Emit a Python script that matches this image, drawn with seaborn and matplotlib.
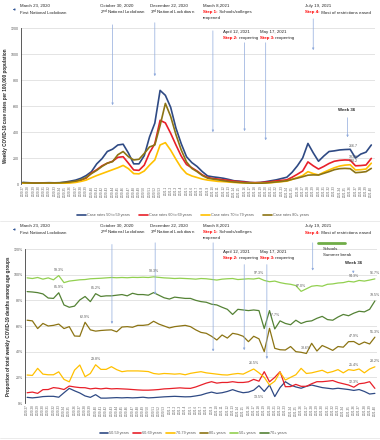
import matplotlib
matplotlib.use("Agg")
import matplotlib.pyplot as plt
from matplotlib.lines import Line2D
import seaborn as sns
import pandas as pd

# ---------------- data ----------------
weeks = [f"2020-{w}" for w in range(27, 54)] + [f"2021-{w}" for w in range(1, 41)]

case_50_59 = [12, 10, 8, 8, 9, 10, 9, 10, 15, 22,
              30, 44, 65, 95, 155, 195, 250, 268, 300, 306,
              238, 155, 155, 218, 362, 468, 720, 682, 590, 430,
              310, 210, 165, 135, 95, 62, 55, 50, 44, 35,
              25, 22, 18, 12, 10, 12, 18, 25, 32, 42,
              52, 90, 140, 200, 312, 240, 175, 215, 250, 255,
              262, 265, 266.7, 200, 230, 245, 300]
case_60_69 = [6, 5, 5, 5, 6, 6, 5, 6, 9, 13,
              18, 28, 45, 85, 110, 140, 160, 175, 205, 210,
              160, 108, 105, 145, 240, 310, 490, 470, 390, 300,
              215, 150, 125, 100, 70, 50, 42, 38, 32, 28,
              22, 18, 14, 11, 10, 11, 14, 18, 24, 28,
              32, 52, 75, 100, 170, 140, 115, 135, 158, 175,
              182, 185, 183.6, 140, 142, 146, 197]
case_70_79 = [5, 4, 4, 4, 4, 5, 4, 5, 6, 8,
              12, 20, 30, 48, 65, 80, 95, 110, 125, 143,
              118, 80, 78, 100, 145, 185, 300, 318, 260, 190,
              125, 80, 62, 50, 38, 30, 25, 20, 18, 15,
              12, 10, 8, 6, 5, 6, 8, 10, 14, 18,
              22, 35, 50, 65, 95, 80, 70, 90, 108, 125,
              138, 145, 148.2, 108, 110, 115, 160]
case_80p = [10, 8, 7, 7, 8, 8, 8, 9, 12, 16,
            22, 32, 50, 80, 105, 135, 160, 172, 225, 250,
            210, 185, 190, 235, 285, 300, 450, 620, 520, 380,
            262, 170, 120, 95, 65, 45, 38, 32, 25, 20,
            15, 12, 9, 7, 5, 6, 8, 12, 16, 20,
            25, 36, 45, 56, 68, 70, 69, 82, 95, 110,
            118, 120, 118, 87, 90, 95, 120]

d_50_59 = [4.4, 4.0, 4.4, 5.0, 5.2, 5.2, 4.5, 8.0, 11.4, 9.5,
           7.8, 5.5, 4.4, 6.5, 3.8, 3.8, 4.0, 4.2, 4.0, 4.2,
           4.0, 4.2, 4.5, 4.0, 4.2, 4.5, 4.8, 5.0, 5.2, 5.0,
           4.8, 4.9, 5.5, 6.2, 7.5, 8.5, 7.5, 8.0, 9.0, 10.4,
           9.0, 8.0, 8.5, 10.0, 13.5, 9.0, 14.0, 5.0, 12.0, 16.6,
           14.0, 12.5, 11.5, 13.0, 14.0, 13.0, 12.0, 11.5, 11.0, 11.5,
           11.0, 10.5, 9.8, 10.5, 9.0, 7.0, 7.5]
d_60_69 = [8.0, 8.5, 7.5, 10.4, 10.5, 12.0, 11.5, 10.5, 13.2, 12.5,
           12.0, 11.9, 11.0, 11.5, 11.0, 11.5, 11.0, 11.2, 11.0, 10.8,
           10.5, 10.2, 10.0, 10.0, 10.2, 10.5, 11.0, 11.2, 11.5, 11.8,
           11.5, 11.4, 12.5, 14.0, 15.5, 16.6, 15.5, 16.0, 16.0, 16.6,
           16.0, 16.0, 16.5, 18.4, 17.0, 24.4, 16.5, 20.0, 24.4, 12.7,
           12.8, 14.5, 13.0, 13.0, 15.0, 16.6, 16.6, 17.0, 17.5, 16.0,
           15.0, 14.0, 12.3, 15.0, 15.5, 16.6, 11.4]
d_70_79 = [21.8, 21.5, 27.0, 22.5, 22.0, 22.0, 24.3, 18.4, 16.5, 25.6,
           29.6, 20.5, 23.0, 29.8, 26.2, 26.2, 28.3, 26.0, 24.4, 25.0,
           25.0, 25.0, 24.8, 24.5, 23.0, 22.5, 23.0, 22.8, 22.5, 22.8,
           22.0, 23.1, 23.8, 24.4, 23.5, 23.0, 22.5, 22.0, 21.8, 22.5,
           23.0, 22.5, 24.5, 26.5, 23.5, 20.0, 14.0, 17.0, 24.0, 17.9,
           20.0, 22.0, 27.0, 23.0, 23.5, 24.5, 25.5, 23.5, 24.5, 26.0,
           23.5, 26.0, 25.4, 26.5, 23.5, 26.5, 28.2]
d_80p = [64.5, 64.0, 58.0, 62.0, 60.0, 60.5, 61.5, 58.0, 59.5, 52.2,
         52.0, 62.9, 57.0, 56.0, 56.5, 56.8, 57.0, 55.5, 59.2, 59.5,
         59.0, 60.5, 60.5, 61.0, 63.7, 61.5, 60.0, 58.5, 59.5, 60.0,
         60.5, 59.5, 57.0, 55.0, 54.3, 52.0, 49.1, 53.0, 50.6, 54.3,
         53.5, 52.0, 47.8, 52.0, 50.0, 40.0, 58.2, 42.6, 41.5, 41.3,
         44.0, 40.0, 39.5, 38.6, 46.5, 40.5, 44.8, 43.0, 41.0, 44.0,
         43.5, 47.8, 47.9, 45.5, 47.5, 46.0, 51.3]
d_50p = [97.5, 97.0, 97.8, 96.5, 97.5, 96.0, 99.3, 93.8, 95.0, 95.5,
         96.0, 96.2, 96.8, 97.0, 97.2, 97.5, 97.8, 97.6, 97.8, 97.6,
         97.9, 97.8, 98.0, 97.8, 98.3, 97.9, 97.5, 97.3, 97.0, 97.2,
         97.0, 96.8, 96.5, 97.0, 96.8, 96.3, 95.8, 96.5, 96.8, 97.0,
         96.2, 96.5, 96.8, 96.6, 97.3, 95.5, 94.5, 95.0, 93.8, 93.0,
         92.5, 91.5, 87.0, 89.0, 91.0, 91.5, 91.0, 92.5, 92.8, 93.5,
         93.8, 94.8, 94.3, 95.5, 95.0, 95.8, 96.7]
d_70p = [86.8, 86.5, 86.0, 85.0, 81.8, 81.5, 85.9, 76.4, 74.6, 75.5,
         80.3, 83.0, 79.0, 85.2, 83.0, 83.5, 83.5, 84.0, 84.5, 83.5,
         85.5, 84.5, 84.5, 84.0, 86.0, 84.0, 82.0, 81.0, 82.5, 82.0,
         81.5, 81.5, 80.0, 79.0, 78.5, 77.0, 76.4, 74.6, 73.0, 69.0,
         73.0, 72.5, 72.0, 72.5, 72.0, 58.0, 72.0, 57.7, 64.0, 62.0,
         61.0, 64.5, 62.0, 63.5, 64.0, 66.0, 67.5, 65.0, 64.5, 67.0,
         69.0, 68.0, 70.0, 71.5, 71.0, 73.0, 79.5]

top_names = ["Case rates 50 to 59 years", "Case rates 60 to 69 years",
             "Case rates 70 to 79 years", "Case rates 80+ years"]
bot_names = ["50-59 years", "60-69 years", "70-79 years", "80+ years",
             "50+ years", "70+ years"]
top_y_ticks = [0, 200, 400, 600, 800, 1000, 1200]
bot_y_ticks = [0, 20, 40, 60, 80, 100, 120]

# ---------------- style ----------------
NAVY, RED, GOLD, OLIVE = "#2F4A84", "#E8202A", "#FFC000", "#8C7414"
LGREEN, DGREEN = "#92D050", "#548235"
W, H = 380, 440

sns.set_theme(style="white")
FONTS = ["Liberation Sans Narrow", "Liberation Sans", "DejaVu Sans"]
plt.rcParams["font.family"] = FONTS
plt.rcParams["mathtext.default"] = "regular"

fig = plt.figure(figsize=(W / 100, H / 100), dpi=100)

def px_axes(l, t, r, b):
    a = fig.add_axes([l / W, 1 - b / H, (r - l) / W, (b - t) / H])
    a.patch.set_alpha(0)
    return a

ax1 = px_axes(20.7, 28, 375, 184)
ax2 = px_axes(25, 249, 377, 403)

idx = list(range(len(weeks)))

df_top = pd.DataFrame({
    "i": idx * 4,
    "v": case_50_59 + case_60_69 + case_70_79 + case_80p,
    "s": sum([[n] * len(weeks) for n in top_names], []),
})
df_bot = pd.DataFrame({
    "i": idx * 6,
    "v": d_50_59 + d_60_69 + d_70_79 + d_80p + d_50p + d_70p,
    "s": sum([[n] * len(weeks) for n in bot_names], []),
})

pal_top = dict(zip(top_names, [NAVY, RED, GOLD, OLIVE]))
pal_bot = dict(zip(bot_names, [NAVY, RED, GOLD, OLIVE, LGREEN, DGREEN]))

sns.lineplot(data=df_top, x="i", y="v", hue="s", hue_order=top_names,
             palette=pal_top, linewidth=1.2, ax=ax1, legend=False, sort=False)
sns.lineplot(data=df_bot, x="i", y="v", hue="s", hue_order=bot_names,
             palette=pal_bot, linewidth=0.9, ax=ax2, legend=False, sort=False)

def style_axis(ax, yticks, ylabels, xlim):
    ax.set_xlim(*xlim)
    ax.set_ylim(yticks[0], yticks[-1])
    ax.set_yticks(yticks)
    ax.set_yticklabels(ylabels, fontsize=2.6, color="#595959")
    ax.set_xticks(idx)
    ax.set_xticklabels(weeks, rotation=90, fontsize=2.2, color="#595959")
    ax.tick_params(length=0, pad=1.2)
    ax.grid(axis="y", color="#D9D9D9", linewidth=0.5)
    ax.grid(axis="x", visible=False)
    for s in ["top", "right", "bottom"]:
        ax.spines[s].set_visible(False)
    ax.spines["left"].set_color("#404040")
    ax.spines["left"].set_linewidth(0.6)
    ax.set_xlabel("")
    ax.set_axisbelow(True)

style_axis(ax1, top_y_ticks, [str(t) for t in top_y_ticks], (-0.4, 66.7))
style_axis(ax2, bot_y_ticks, [f"{t}%" for t in bot_y_ticks], (-0.4, 66.4))
ax1.set_ylabel("Weekly COVID-19 case rates per 100,000 population",
               fontsize=3.3, fontweight="bold", labelpad=2)
ax2.set_ylabel("Proportion of total weekly COVID-19 deaths among age groups",
               fontsize=3.3, fontweight="bold", labelpad=2)

# legends
h_top = [Line2D([0], [0], color=pal_top[n], lw=1.2) for n in top_names]
fig.legend(h_top, top_names, loc="center", bbox_to_anchor=(193 / W, 1 - 215 / H),
           ncol=4, frameon=False, fontsize=2.7, handlelength=2.2,
           handletextpad=0.3, columnspacing=2.6, labelcolor="#595959")
h_bot = [Line2D([0], [0], color=pal_bot[n], lw=1.2) for n in bot_names]
fig.legend(h_bot, bot_names, loc="center", bbox_to_anchor=(193 / W, 1 - 433 / H),
           ncol=6, frameon=False, fontsize=2.7, handlelength=2.2,
           handletextpad=0.3, columnspacing=1.1, labelcolor="#595959")

# ---------------- annotations ----------------
FS = 3.2
TXT = dict(fontsize=FS, color="#262626", va="center", ha="left")

def ftext(x, y, s, **kw):
    d = dict(TXT); d.update(kw)
    return fig.text(x / W, 1 - y / H, s, **d)

def step_text(x, y, step, rest):
    t = ftext(x, y, step, color="#FF0000", fontweight="bold")
    ann = matplotlib.text.Annotation(rest, xy=(1, 0), xycoords=t, va="bottom",
                                     ha="left", fontsize=FS, color="#262626")
    fig.add_artist(ann)
    return ann

def header(dy):
    ftext(20, 5.5 + dy, "March 23, 2020")
    ftext(20, 12.5 + dy, "First National Lockdown")
    ftext(100, 5.5 + dy, "October 30, 2020")
    ftext(100, 12.5 + dy, "2$^{nd}$ National Lockdown")
    ftext(150, 5.5 + dy, "December 22, 2020")
    ftext(150, 12.5 + dy, "3$^{rd}$ National Lockdown")
    ftext(203, 5.5 + dy, "March 8,2021")
    step_text(203, 12 + dy, "Step 1:", " Schools/colleges")
    ftext(203, 18.5 + dy, "reopened")
    ftext(305, 5.5 + dy, "July 19, 2021")
    step_text(305, 12.5 + dy, "Step 4:", " Most of restrictions eased")
    fig.add_artist(matplotlib.patches.FancyArrowPatch(
        (18 / W, 1 - (9.5 + dy) / H), (10 / W, 1 - (9.5 + dy) / H),
        transform=fig.transFigure, arrowstyle="-|>", mutation_scale=3,
        color="#2F5597", lw=0.4))

header(0)
ftext(223, 31.5, "April 12, 2021")
step_text(223, 38, "Step 2:", " reopening")
ftext(260, 31.5, "May 17, 2021")
step_text(260, 38, "Step 3:", " reopening")
ftext(338, 110, "Week 36", fontweight="bold")

header(220)
ftext(223, 251.7, "April 12, 2021")
step_text(223, 258, "Step 2:", " reopening")
ftext(260, 251.7, "May 17, 2021")
step_text(260, 258, "Step 3:", " reopening")
ftext(323, 248.7, "Schools")
ftext(323, 255, "Summer break")
ftext(345, 263.3, "Week 36", fontweight="bold")

ARROW = dict(arrowstyle="-|>", mutation_scale=2.8, color="#8FAADC", lw=0.5)

def varrow(ax, x, ytop, ytip):
    ax.annotate("", xy=(x, ytip), xytext=(x, ytop), xycoords="data",
                textcoords="data", arrowprops=ARROW, annotation_clip=False)

# event arrows (week index, top value, tip value)
for x, yt, yp in [(17, 1246, 585), (25, 1262, 808), (36, 1200, 377),
                  (42, 1108, 385), (46, 1108, 315), (55, 1292, 1008),
                  (61.5, 531, 338)]:
    varrow(ax1, x, yt, yp)
for x, yt, yp in [(16.1, 125.7, 59.5), (24.3, 127, 82.4), (35.3, 127, 38),
                  (41.2, 110, 39), (45.5, 110, 32.2), (54.2, 127, 101),
                  (61.9, 105, 101)]:
    varrow(ax2, x, yt, yp)

# summer break bar
ax2.plot([55.2, 60.3], [124.7, 124.7], color="#70AD47", lw=2.0,
         solid_capstyle="round", clip_on=False)

# data labels
LBL = dict(fontsize=2.6, color="#595959", textcoords="offset points",
           annotation_clip=False)
for series, i in [(case_50_59, 62), (case_60_69, 62), (case_70_79, 62)]:
    ax1.annotate(f"{series[i]:.1f}", xy=(i, series[i]), xytext=(-1, 2.5),
                 ha="left", va="center", **LBL)

bot_labels = [(d_50p, 6, 4), (d_50p, 24, 4), (d_50p, 44, 4), (d_50p, 52, 4),
              (d_50p, 62, 4), (d_50p, 66, 4),
              (d_70p, 6, 4), (d_70p, 13, 4), (d_70p, 66, 4), (d_70p, 47, 10),
              (d_80p, 11, 4), (d_80p, 53, 4), (d_80p, 62, 4), (d_80p, 66, 4),
              (d_70_79, 13, 4), (d_70_79, 43, 4), (d_70_79, 62, 4), (d_70_79, 66, 4),
              (d_60_69, 62, 4), (d_50_59, 44, -8)]
for series, i, dy in bot_labels:
    ax2.annotate(f"{series[i]:.1f}%", xy=(i, series[i]), xytext=(0, dy),
                 ha="center", va="center", **LBL)

# faint panel separators
fig.add_artist(Line2D([0, 1], [1 - 221 / H] * 2, color="#E3E3E3", lw=0.5,
                      transform=fig.transFigure))
fig.add_artist(Line2D([0, 1], [1 - 438 / H] * 2, color="#E3E3E3", lw=0.5,
                      transform=fig.transFigure))

fig.savefig("out.png", dpi=100, facecolor="white")
